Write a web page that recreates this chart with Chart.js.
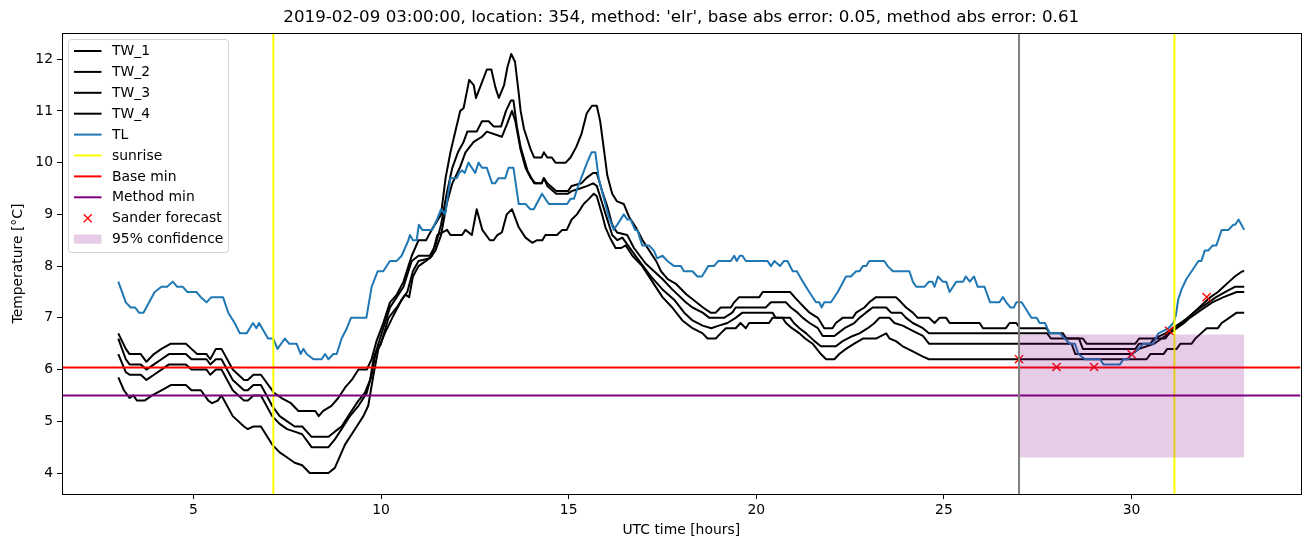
<!DOCTYPE html>
<html>
<head>
<meta charset="utf-8">
<script src="https://cdn.jsdelivr.net/npm/chart.js@4.4.1/dist/chart.umd.min.js"></script>
<style>
  html, body { margin: 0; padding: 0; background: #fff; }
  #wrap { width: 1311px; height: 547px; }
</style>
</head>
<body>
<div id="wrap"><canvas id="chart" width="1311" height="547"></canvas></div>
<script>
// ---- data (hours UTC, temperature °C) ----
const TL = [[3.0,7.7],[3.2,7.3],[3.33,7.2],[3.45,7.2],[3.55,7.1],[3.67,7.1],[3.97,7.5],[4.15,7.6],[4.3,7.6],[4.45,7.7],[4.57,7.6],[4.72,7.6],[4.84,7.5],[5.08,7.5],[5.2,7.4],[5.35,7.3],[5.48,7.4],[5.79,7.4],[5.93,7.1],[6.1,6.9],[6.24,6.7],[6.42,6.7],[6.59,6.9],[6.68,6.8],[6.75,6.9],[6.99,6.6],[7.13,6.6],[7.24,6.4],[7.44,6.6],[7.55,6.5],[7.75,6.5],[7.86,6.3],[7.93,6.4],[8.02,6.3],[8.2,6.2],[8.42,6.2],[8.51,6.3],[8.6,6.2],[8.73,6.3],[8.82,6.3],[8.95,6.6],[9.09,6.8],[9.2,7.0],[9.61,7.0],[9.75,7.6],[9.91,7.9],[10.06,7.9],[10.24,8.1],[10.42,8.1],[10.55,8.2],[10.73,8.5],[10.77,8.6],[10.85,8.5],[10.95,8.5],[11.01,8.8],[11.1,8.7],[11.36,8.7],[11.49,8.9],[11.6,9.1],[11.71,9.0],[11.85,9.7],[12.02,9.7],[12.08,9.8],[12.16,9.85],[12.23,9.8],[12.33,10.0],[12.42,9.9],[12.51,9.8],[12.6,10.0],[12.69,9.9],[12.82,9.9],[12.96,9.6],[13.04,9.6],[13.13,9.7],[13.31,9.7],[13.4,9.9],[13.53,9.9],[13.67,9.2],[13.85,9.2],[13.98,9.1],[14.07,9.1],[14.29,9.4],[14.47,9.2],[14.96,9.2],[15.05,9.3],[15.14,9.3],[15.23,9.5],[15.36,9.75],[15.49,10.0],[15.61,10.2],[15.71,10.2],[15.8,9.7],[15.94,9.3],[16.07,8.95],[16.2,8.7],[16.34,8.85],[16.47,9.0],[16.56,8.9],[16.65,8.9],[16.77,8.7],[16.83,8.7],[16.96,8.4],[17.14,8.4],[17.27,8.3],[17.36,8.15],[17.5,8.2],[17.63,8.1],[17.81,8.0],[17.99,8.0],[18.07,7.9],[18.3,7.9],[18.43,7.8],[18.55,7.8],[18.72,8.0],[18.87,8.0],[18.99,8.1],[19.32,8.1],[19.41,8.2],[19.48,8.1],[19.56,8.2],[19.63,8.2],[19.72,8.1],[20.3,8.1],[20.39,8.0],[20.48,8.1],[20.63,8.0],[20.74,8.1],[20.83,8.1],[20.97,7.9],[21.08,7.9],[21.24,7.7],[21.41,7.5],[21.59,7.3],[21.68,7.3],[21.74,7.2],[21.81,7.3],[21.99,7.3],[22.17,7.5],[22.39,7.8],[22.52,7.8],[22.66,7.9],[22.75,7.9],[22.84,8.0],[22.93,8.0],[23.01,8.1],[23.41,8.1],[23.5,8.0],[23.64,7.9],[24.08,7.9],[24.17,7.7],[24.26,7.6],[24.48,7.6],[24.6,7.7],[24.69,7.7],[24.75,7.6],[24.84,7.8],[24.97,7.7],[25.06,7.7],[25.15,7.5],[25.33,7.7],[25.51,7.7],[25.58,7.8],[25.69,7.7],[25.8,7.8],[25.9,7.6],[26.08,7.6],[26.23,7.3],[26.48,7.3],[26.57,7.4],[26.66,7.3],[26.77,7.2],[26.86,7.2],[26.93,7.3],[27.07,7.3],[27.2,7.15],[27.33,7.0],[27.47,7.0],[27.55,6.9],[27.69,6.9],[27.82,6.7],[28.09,6.7],[28.22,6.6],[28.35,6.5],[28.49,6.5],[28.58,6.3],[28.76,6.2],[29.16,6.2],[29.25,6.1],[29.69,6.1],[29.78,6.2],[29.91,6.2],[30.0,6.3],[30.18,6.4],[30.31,6.5],[30.58,6.5],[30.71,6.7],[30.85,6.75],[30.98,6.8],[31.11,6.9],[31.18,7.05],[31.24,7.35],[31.33,7.55],[31.46,7.75],[31.6,7.9],[31.78,8.1],[31.86,8.1],[31.95,8.3],[32.04,8.3],[32.16,8.4],[32.26,8.4],[32.4,8.7],[32.58,8.7],[32.71,8.8],[32.76,8.8],[32.85,8.9],[33.0,8.7]];

const TW_1 = [[3.0,6.7],[3.2,6.4],[3.3,6.3],[3.6,6.3],[3.75,6.15],[3.95,6.3],[4.15,6.4],[4.4,6.5],[4.8,6.5],[4.95,6.4],[5.1,6.3],[5.35,6.3],[5.45,6.2],[5.6,6.4],[5.75,6.4],[6.05,6.0],[6.35,5.8],[6.45,5.8],[6.6,5.9],[6.8,5.9],[7.15,5.55],[7.35,5.45],[7.6,5.35],[7.8,5.2],[8.25,5.2],[8.34,5.1],[8.46,5.2],[8.68,5.3],[8.86,5.45],[9.04,5.65],[9.22,5.8],[9.4,6.0],[9.62,6.0],[9.75,6.2],[9.88,6.55],[10.06,6.9],[10.24,7.3],[10.42,7.45],[10.6,7.7],[10.73,8.0],[10.82,8.2],[11.0,8.5],[11.2,8.5],[11.35,8.7],[11.6,9.0],[11.72,9.7],[11.85,10.2],[11.98,10.6],[12.11,11.0],[12.2,11.05],[12.35,11.6],[12.47,11.5],[12.53,11.25],[12.69,11.55],[12.82,11.8],[12.94,11.8],[13.05,11.45],[13.14,11.25],[13.28,11.5],[13.37,11.85],[13.47,12.1],[13.57,11.95],[13.66,11.4],[13.72,11.0],[13.81,10.65],[13.99,10.25],[14.08,10.1],[14.28,10.1],[14.34,10.2],[14.43,10.1],[14.55,10.1],[14.65,10.0],[14.92,10.0],[15.05,10.1],[15.2,10.3],[15.34,10.55],[15.48,10.95],[15.62,11.1],[15.75,11.1],[15.84,10.8],[15.94,10.25],[16.03,9.75],[16.16,9.4],[16.29,9.25],[16.47,9.2],[16.61,8.95],[16.79,8.75],[16.97,8.5],[17.15,8.3],[17.33,8.1],[17.46,7.9],[17.64,7.75],[17.87,7.65],[18.14,7.45],[18.32,7.35],[18.58,7.2],[18.78,7.1],[18.92,7.1],[19.05,7.2],[19.32,7.2],[19.41,7.3],[19.54,7.4],[20.08,7.4],[20.17,7.5],[20.9,7.5],[21.02,7.4],[21.15,7.3],[21.28,7.2],[21.42,7.1],[21.64,7.0],[21.81,6.8],[22.03,6.8],[22.12,6.9],[22.3,7.0],[22.57,7.0],[22.66,7.1],[22.88,7.2],[23.01,7.3],[23.19,7.4],[23.72,7.4],[23.86,7.3],[23.99,7.2],[24.17,7.1],[24.3,7.0],[24.6,7.0],[24.75,6.9],[24.88,7.0],[25.06,7.0],[25.15,6.9],[25.95,6.9],[26.04,6.8],[26.65,6.8],[26.75,6.9],[26.93,6.9],[27.02,6.8],[27.73,6.8],[27.82,6.7],[28.17,6.7],[28.26,6.6],[28.7,6.6],[28.8,6.5],[30.1,6.5],[30.2,6.6],[30.9,6.6],[31.0,6.7],[31.2,6.8],[31.35,6.9],[31.5,7.0],[31.65,7.1],[31.8,7.2],[31.95,7.3],[32.1,7.4],[32.3,7.5],[32.45,7.6],[32.6,7.7],[32.75,7.8],[32.95,7.9],[33.0,7.9]];

const TW_2 = [[3.0,6.6],[3.2,6.2],[3.3,6.1],[3.6,6.1],[3.75,6.0],[3.95,6.1],[4.15,6.2],[4.35,6.3],[4.8,6.3],[4.95,6.2],[5.35,6.2],[5.45,6.1],[5.6,6.2],[5.75,6.2],[6.05,5.8],[6.35,5.6],[6.45,5.6],[6.6,5.7],[6.8,5.7],[7.1,5.3],[7.3,5.1],[7.5,5.0],[7.7,4.9],[7.9,4.9],[8.15,4.7],[8.6,4.7],[8.77,4.8],[8.95,4.9],[9.17,5.15],[9.4,5.4],[9.57,5.55],[9.71,5.8],[9.8,6.2],[9.93,6.5],[10.06,6.8],[10.24,7.2],[10.42,7.4],[10.6,7.6],[10.73,7.9],[10.82,8.1],[11.0,8.2],[11.3,8.2],[11.45,8.4],[11.6,8.8],[11.75,9.4],[11.9,9.9],[12.05,10.2],[12.2,10.4],[12.3,10.6],[12.55,10.6],[12.69,10.8],[12.87,10.8],[13.0,10.7],[13.2,10.7],[13.33,11.0],[13.46,11.2],[13.53,11.2],[13.62,10.7],[13.72,10.3],[13.9,9.85],[14.08,9.6],[14.28,9.6],[14.34,9.7],[14.43,9.6],[14.67,9.45],[14.98,9.45],[15.08,9.55],[15.34,9.6],[15.47,9.7],[15.65,9.8],[15.75,9.8],[15.89,9.45],[16.03,9.15],[16.16,8.8],[16.29,8.65],[16.56,8.6],[16.74,8.35],[17.05,8.05],[17.5,7.75],[17.76,7.55],[18.12,7.3],[18.3,7.2],[18.57,7.1],[18.75,7.0],[19.14,7.0],[19.36,7.1],[19.45,7.2],[20.25,7.2],[20.39,7.3],[20.79,7.3],[20.92,7.2],[21.1,7.1],[21.24,7.0],[21.42,6.9],[21.64,6.8],[21.77,6.65],[22.08,6.65],[22.17,6.7],[22.35,6.8],[22.61,6.9],[22.75,7.0],[22.92,7.1],[23.1,7.2],[23.46,7.2],[23.59,7.1],[23.86,7.1],[23.99,7.0],[24.17,6.9],[24.44,6.8],[24.6,6.7],[27.75,6.7],[27.85,6.6],[28.6,6.6],[28.7,6.4],[30.1,6.4],[30.2,6.5],[30.5,6.5],[30.6,6.6],[30.9,6.7],[31.1,6.8],[31.3,6.9],[31.5,7.0],[31.65,7.1],[31.85,7.2],[32.05,7.3],[32.25,7.4],[32.5,7.5],[32.75,7.6],[33.0,7.6]];

const TW_3 = [[3.0,6.3],[3.2,5.95],[3.3,5.9],[3.6,5.9],[3.75,5.8],[3.95,5.9],[4.15,6.0],[4.35,6.1],[4.8,6.1],[4.95,6.0],[5.35,6.0],[5.45,5.9],[5.6,6.0],[5.75,6.0],[6.05,5.6],[6.35,5.4],[6.45,5.4],[6.6,5.5],[6.8,5.5],[7.1,5.1],[7.3,4.95],[7.5,4.85],[7.7,4.8],[7.9,4.75],[8.15,4.5],[8.6,4.5],[8.77,4.65],[8.95,4.85],[9.17,5.1],[9.4,5.3],[9.62,5.55],[9.75,5.9],[9.85,6.3],[10.0,6.5],[10.2,7.0],[10.42,7.2],[10.6,7.4],[10.7,7.5],[10.85,7.9],[11.0,8.1],[11.3,8.15],[11.45,8.3],[11.6,8.6],[11.75,9.2],[11.9,9.6],[12.1,9.9],[12.25,10.2],[12.47,10.4],[12.69,10.5],[12.82,10.6],[13.22,10.5],[13.36,10.75],[13.49,11.0],[13.58,10.8],[13.72,10.25],[13.85,9.9],[13.99,9.7],[14.12,9.6],[14.28,9.6],[14.34,9.7],[14.43,9.55],[14.67,9.4],[14.98,9.4],[15.08,9.45],[15.3,9.5],[15.5,9.55],[15.65,9.6],[15.75,9.55],[15.9,9.2],[16.03,8.9],[16.16,8.6],[16.3,8.5],[16.43,8.55],[16.88,8.1],[17.19,7.8],[17.5,7.55],[17.81,7.35],[18.08,7.1],[18.3,6.95],[18.57,6.85],[18.8,6.8],[19.0,6.85],[19.23,6.9],[19.45,7.0],[19.63,7.1],[20.43,7.1],[20.52,7.0],[20.9,7.0],[21.0,6.9],[21.15,6.8],[21.33,6.7],[21.55,6.55],[21.72,6.45],[22.12,6.45],[22.3,6.55],[22.57,6.65],[22.75,6.7],[22.97,6.8],[23.15,6.9],[23.28,7.0],[23.55,7.0],[23.68,6.9],[23.9,6.85],[24.17,6.75],[24.44,6.65],[24.6,6.5],[28.4,6.5],[28.5,6.3],[30.0,6.3],[30.2,6.4],[30.6,6.5],[30.8,6.6],[31.0,6.7],[31.2,6.8],[31.4,6.9],[31.55,7.0],[31.75,7.1],[31.95,7.2],[32.15,7.3],[32.45,7.4],[32.8,7.5],[33.0,7.5]];

const TW_4 = [[3.0,5.85],[3.15,5.6],[3.3,5.45],[3.4,5.5],[3.5,5.4],[3.7,5.4],[3.9,5.5],[4.15,5.6],[4.4,5.7],[4.8,5.7],[4.95,5.6],[5.2,5.6],[5.4,5.4],[5.5,5.35],[5.65,5.4],[5.75,5.5],[6.05,5.1],[6.35,4.9],[6.45,4.85],[6.6,4.9],[6.8,4.9],[7.1,4.55],[7.3,4.4],[7.5,4.3],[7.7,4.2],[7.9,4.15],[8.1,4.0],[8.6,4.0],[8.77,4.1],[9.04,4.55],[9.31,4.85],[9.53,5.1],[9.66,5.3],[9.8,5.9],[9.93,6.4],[10.1,6.7],[10.3,7.0],[10.55,7.35],[10.65,7.45],[10.75,7.4],[10.85,7.8],[11.0,8.0],[11.2,8.1],[11.36,8.2],[11.5,8.6],[11.76,8.7],[11.85,8.6],[12.16,8.6],[12.25,8.7],[12.42,8.6],[12.55,9.1],[12.7,8.7],[12.9,8.5],[13.0,8.5],[13.1,8.6],[13.22,8.65],[13.35,9.0],[13.49,9.1],[13.67,8.75],[13.85,8.55],[14.03,8.45],[14.16,8.5],[14.3,8.5],[14.38,8.6],[14.69,8.6],[14.83,8.7],[14.95,8.7],[15.08,8.9],[15.22,9.0],[15.4,9.2],[15.54,9.3],[15.67,9.4],[15.75,9.35],[15.89,9.0],[15.98,8.75],[16.1,8.55],[16.25,8.35],[16.4,8.35],[16.52,8.4],[16.7,8.2],[16.96,8.0],[17.23,7.7],[17.5,7.4],[17.76,7.2],[18.03,6.95],[18.3,6.8],[18.57,6.7],[18.7,6.6],[18.92,6.6],[19.05,6.7],[19.19,6.8],[19.45,6.8],[19.58,6.9],[19.72,6.8],[19.81,6.9],[20.34,6.9],[20.43,7.0],[20.7,7.0],[20.79,6.9],[20.95,6.8],[21.15,6.7],[21.3,6.6],[21.5,6.5],[21.72,6.3],[21.86,6.2],[22.08,6.2],[22.21,6.3],[22.39,6.4],[22.61,6.5],[22.84,6.6],[23.19,6.6],[23.46,6.7],[23.55,6.6],[23.72,6.55],[23.9,6.45],[24.17,6.35],[24.44,6.25],[24.6,6.2],[30.4,6.2],[30.5,6.3],[30.85,6.3],[30.95,6.4],[31.2,6.4],[31.3,6.5],[31.6,6.5],[31.7,6.6],[31.85,6.7],[32.0,6.8],[32.3,6.8],[32.4,6.9],[32.6,7.0],[32.8,7.1],[33.0,7.1]];

const sunriseHours = [7.13, 31.14];
const forecastStart = 27;
const baseMin = 6.04;
const methodMin = 5.5;
const forecastHours = [27, 28, 29, 30, 31, 32];
const forecastTemps = [6.2, 6.05, 6.05, 6.3, 6.75, 7.4];
const confHours = [27, 33];
const confLow = 4.3;
const confHigh = 6.68;

const xTicks = [5, 10, 15, 20, 25, 30];
const yTicks = [4, 5, 6, 7, 8, 9, 10, 11, 12];
const xRange = [1.5, 34.5];
const yRange = [3.595, 12.505];

const titleText = "2019-02-09 03:00:00, location: 354, method: 'elr', base abs error: 0.05, method abs error: 0.61";

// ---- helpers ----
const pts = arr => arr.map(p => ({ x: p[0], y: p[1] }));
const vline = x => [{ x: x, y: yRange[0] }, { x: x, y: yRange[1] }];
const hline = y => [{ x: xRange[0], y: y }, { x: xRange[1], y: y }];
const FONT = "'DejaVu Sans', sans-serif";
const FS = 13.9;

function lineDs(label, data, color, width) {
  return {
    label, data,
    borderColor: color, backgroundColor: color,
    borderWidth: width || 2,
    pointRadius: 0, tension: 0, fill: false,
    borderJoinStyle: 'round'
  };
}

// matplotlib call order (later = on top)
const datasets = [
  lineDs('TW_1', pts(TW_1), '#000000'),
  lineDs('TW_2', pts(TW_2), '#000000'),
  lineDs('TW_3', pts(TW_3), '#000000'),
  lineDs('TW_4', pts(TW_4), '#000000'),
  lineDs('TL', pts(TL), '#1f77b4'),
  lineDs('sunrise', vline(sunriseHours[0]), '#ffff00'),
  lineDs('_sunrise2', vline(sunriseHours[1]), '#ffff00'),
  lineDs('Base min', hline(baseMin), '#ff0000'),
  lineDs('Method min', hline(methodMin), '#800080'),
  {
    label: 'Sander forecast',
    data: forecastHours.map((h, i) => ({ x: h, y: forecastTemps[i] })),
    showLine: false, pointStyle: 'crossRot', pointRadius: 5.8,
    borderColor: '#ff0000', backgroundColor: '#ff0000', pointBorderWidth: 1.4
  },
  {
    label: '95% confidence',
    data: confHours.map(h => ({ x: h, y: confHigh })),
    borderWidth: 0, pointRadius: 0,
    backgroundColor: 'rgba(128,0,128,0.2)',
    fill: { value: confLow }
  },
  lineDs('_start', vline(forecastStart), '#808080')
];
datasets.forEach((d, i) => { d.order = datasets.length - i; });

const legendItems = [
  { label: 'TW_1', kind: 'line', color: '#000000' },
  { label: 'TW_2', kind: 'line', color: '#000000' },
  { label: 'TW_3', kind: 'line', color: '#000000' },
  { label: 'TW_4', kind: 'line', color: '#000000' },
  { label: 'TL', kind: 'line', color: '#1f77b4' },
  { label: 'sunrise', kind: 'line', color: '#ffff00' },
  { label: 'Base min', kind: 'line', color: '#ff0000' },
  { label: 'Method min', kind: 'line', color: '#800080' },
  { label: 'Sander forecast', kind: 'x', color: '#ff0000' },
  { label: '95% confidence', kind: 'patch', color: 'rgba(128,0,128,0.2)' }
];

// frame + inset legend, drawn like matplotlib
const framePlugin = {
  id: 'frame',
  afterDraw(chart) {
    const ctx = chart.ctx, a = chart.chartArea;
    ctx.save();
    ctx.strokeStyle = '#000';
    ctx.lineWidth = 1;
    ctx.strokeRect(Math.round(a.left) + 0.5, Math.round(a.top) + 0.5,
      Math.round(a.right - a.left), Math.round(a.bottom - a.top));

    // legend box
    const bx = a.left + 6.5, by = 39.5, bw = 160, bh = 213;
    ctx.beginPath();
    ctx.roundRect(bx, by, bw, bh, 3);
    ctx.fillStyle = 'rgba(255,255,255,0.8)';
    ctx.fill();
    ctx.strokeStyle = '#d0d0d0';
    ctx.stroke();

    ctx.font = FS + 'px ' + FONT;
    ctx.textBaseline = 'middle';
    ctx.textAlign = 'left';
    const x0 = bx + 5.5, x1 = bx + 33, step = 20.9;
    legendItems.forEach((it, i) => {
      const y = by + 11.5 + i * step;
      if (it.kind === 'line') {
        ctx.strokeStyle = it.color;
        ctx.lineWidth = 2;
        ctx.beginPath(); ctx.moveTo(x0, y); ctx.lineTo(x1, y); ctx.stroke();
      } else if (it.kind === 'x') {
        const cx = (x0 + x1) / 2, r = 4;
        ctx.strokeStyle = it.color;
        ctx.lineWidth = 1.4;
        ctx.beginPath();
        ctx.moveTo(cx - r, y - r); ctx.lineTo(cx + r, y + r);
        ctx.moveTo(cx - r, y + r); ctx.lineTo(cx + r, y - r);
        ctx.stroke();
      } else {
        ctx.fillStyle = it.color;
        ctx.fillRect(x0, y - 4.6, x1 - x0, 9.2);
      }
      ctx.fillStyle = '#000';
      ctx.fillText(it.label, bx + 43.5, y + 0.5);
    });
    ctx.restore();
  }
};

new Chart(document.getElementById('chart'), {
  type: 'line',
  data: { datasets },
  plugins: [framePlugin],
  options: {
    responsive: false,
    animation: false,
    events: [],
    layout: { padding: { left: 0, right: 10.5, top: 0, bottom: 0 } },
    plugins: {
      legend: { display: false },
      tooltip: { enabled: false },
      title: {
        display: true,
        text: titleText,
        fullSize: false,
        color: '#000',
        font: { family: FONT, size: 16.7, weight: 'normal' },
        padding: { top: 7.5, bottom: 5.5 }
      }
    },
    scales: {
      x: {
        type: 'linear',
        min: xRange[0], max: xRange[1],
        afterFit: s => { s.height = 53; },
        afterBuildTicks: s => { s.ticks = xTicks.map(v => ({ value: v })); },
        grid: { drawOnChartArea: false, drawTicks: true, tickLength: 5, color: '#000' },
        border: { display: true, color: '#000' },
        ticks: { color: '#000', padding: 3, maxRotation: 0, font: { family: FONT, size: FS } },
        title: { display: true, text: 'UTC time [hours]', color: '#000', padding: { top: 4, bottom: 8 },
                 font: { family: FONT, size: FS } }
      },
      y: {
        type: 'linear',
        min: yRange[0], max: yRange[1],
        afterFit: s => { s.width = 62; },
        afterBuildTicks: s => { s.ticks = yTicks.map(v => ({ value: v })); },
        grid: { drawOnChartArea: false, drawTicks: true, tickLength: 5, color: '#000' },
        border: { display: true, color: '#000' },
        ticks: { color: '#000', padding: 4, font: { family: FONT, size: FS } },
        title: { display: true, text: 'Temperature [°C]', color: '#000', padding: { top: 10, bottom: 4 },
                 font: { family: FONT, size: FS } }
      }
    }
  }
});
</script>
</body>
</html>
